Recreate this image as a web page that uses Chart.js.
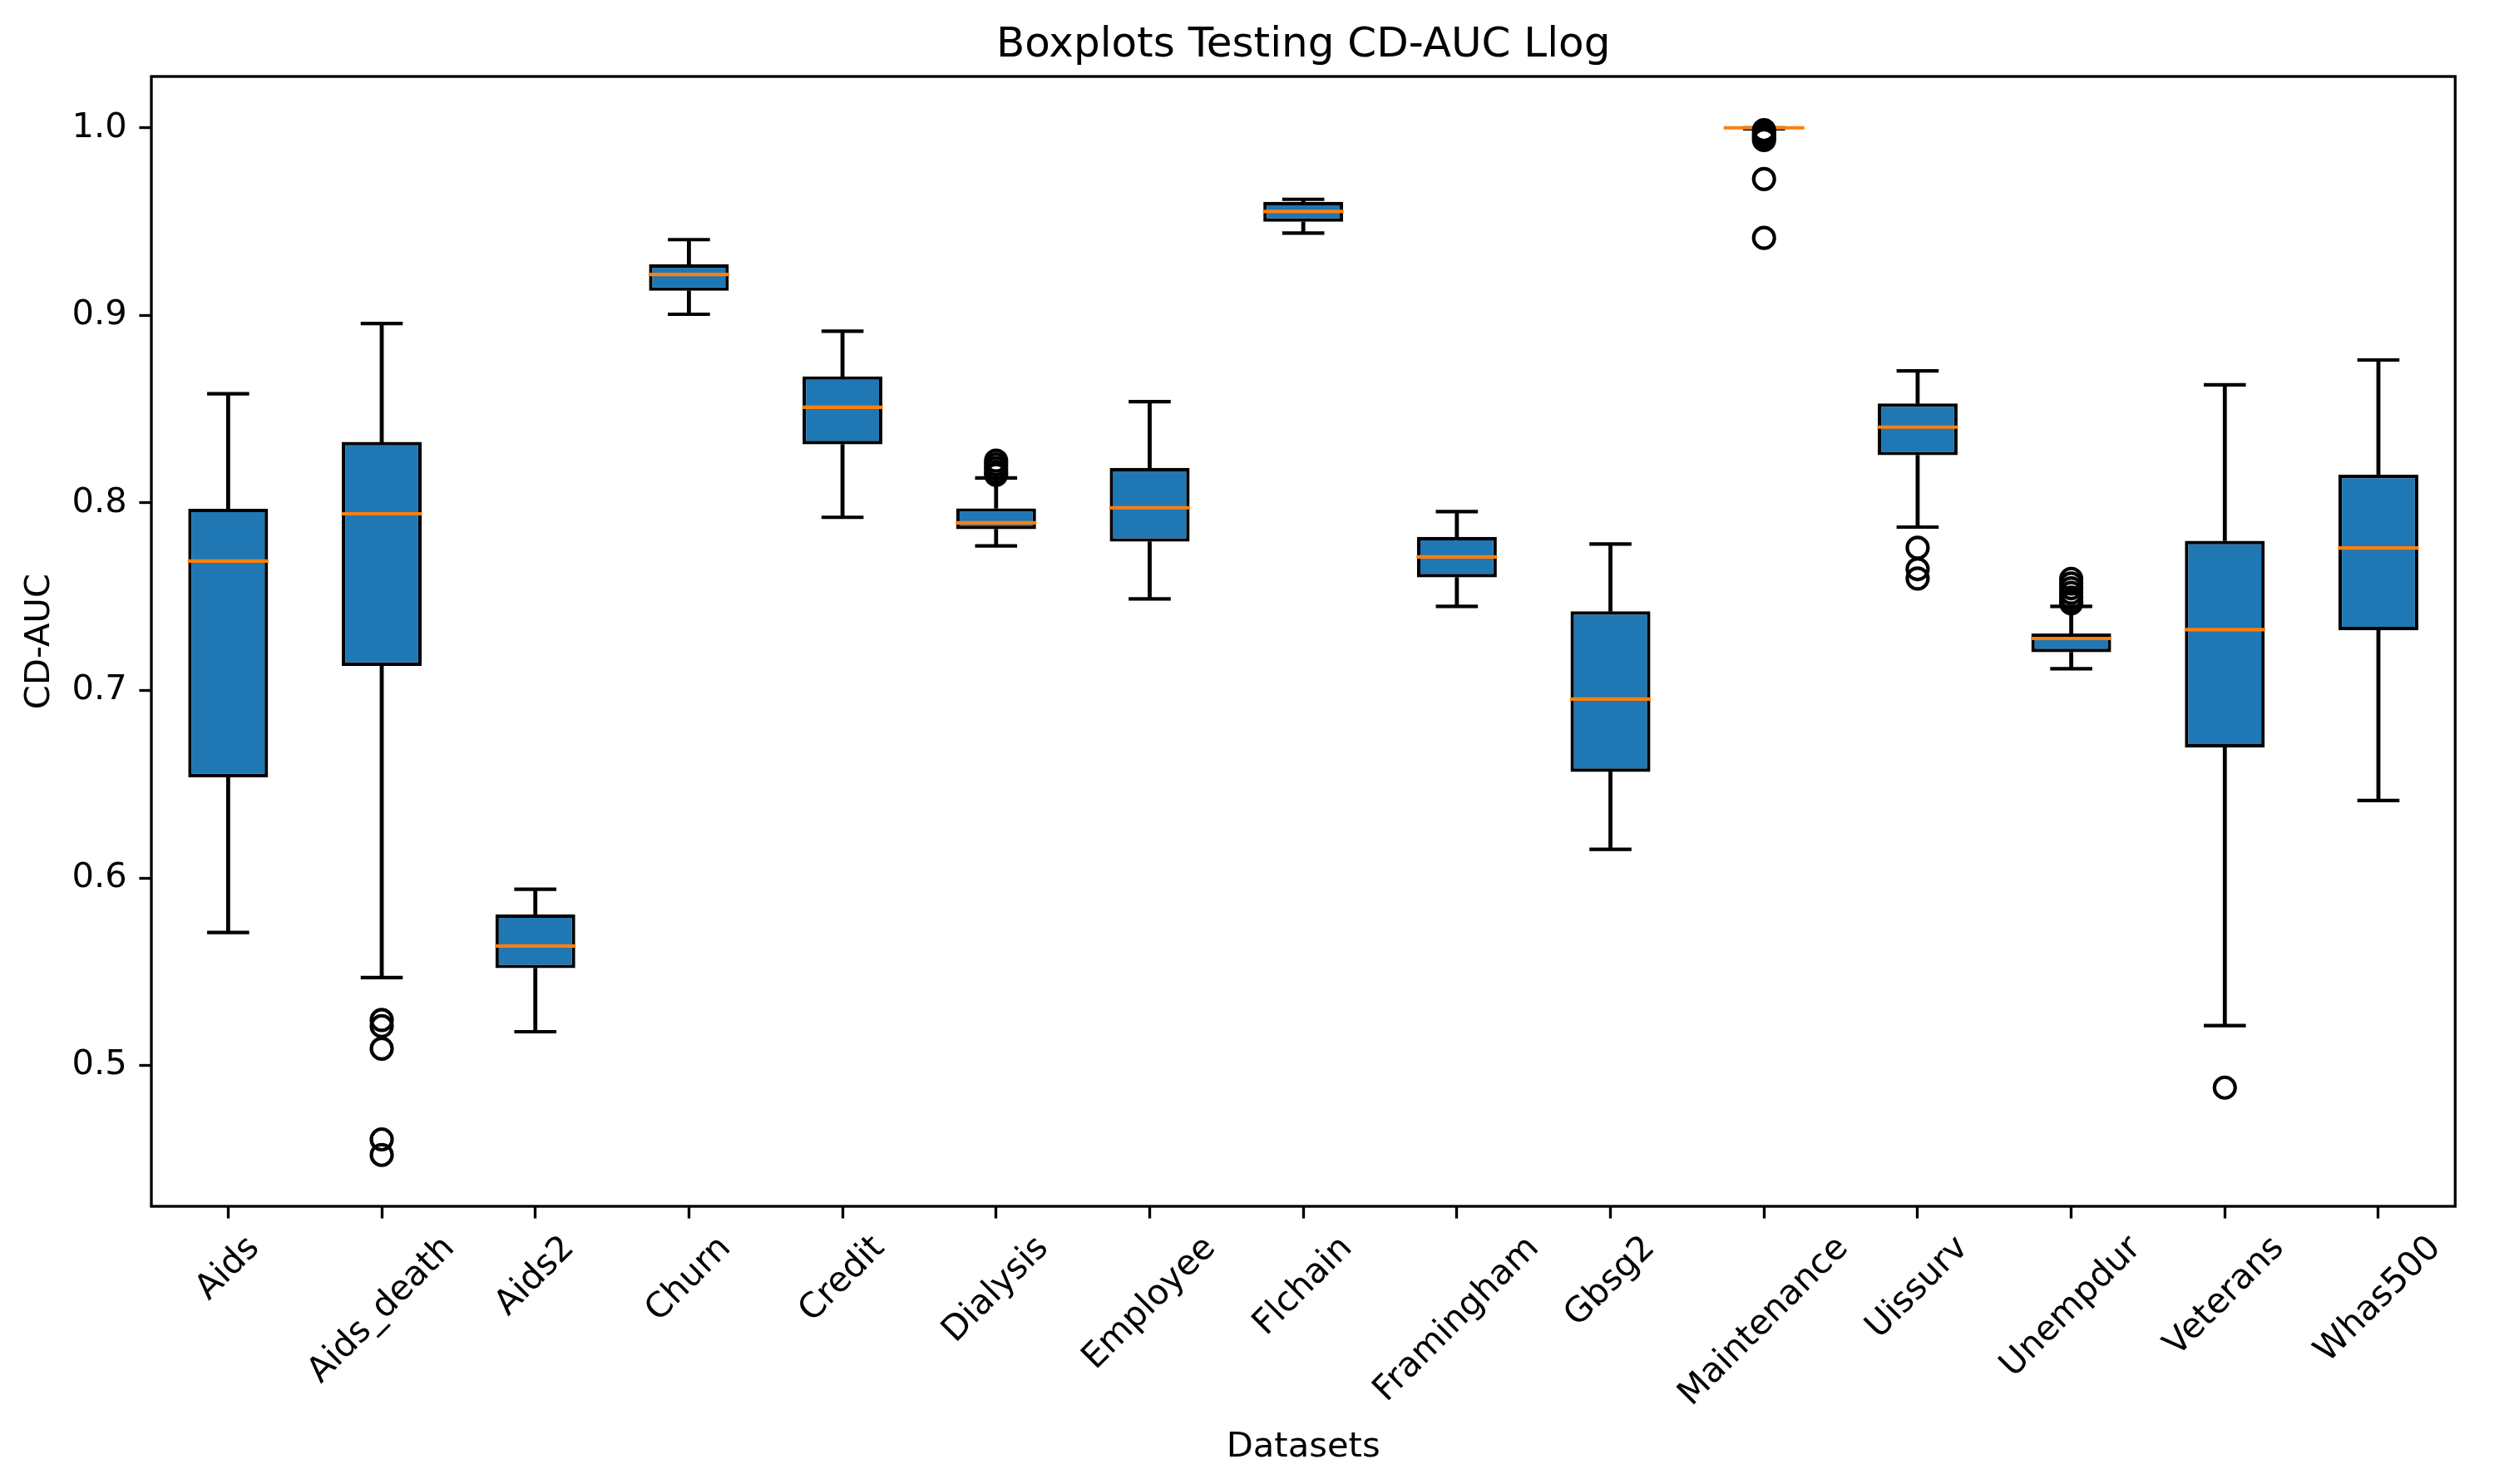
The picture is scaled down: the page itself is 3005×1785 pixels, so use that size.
<!DOCTYPE html>
<html>
<head>
<meta charset="utf-8">
<script src="https://cdn.jsdelivr.net/npm/chart.js@4.4.1/dist/chart.umd.min.js"></script>
<style>
    html, body { margin: 0; padding: 0; background: #fff; }
    #wrap { width: 3005px; height: 1785px; }
</style>
</head>
<body>
<div id="wrap"><canvas id="chart" width="3005" height="1785"></canvas></div>
<script>
// Values
const datasets = ['Aids', 'Aids_death', 'Aids2', 'Churn', 'Credit', 'Dialysis', 'Employee', 'Flchain',
    'Framingham', 'Gbsg2', 'Maintenance', 'Uissurv', 'Unempdur', 'Veterans', 'Whas500'];
const whiskerLow  = [0.5709, 0.5469, 0.5180, 0.9006, 0.7923, 0.7771, 0.7488, 0.9439, 0.7448, 0.6153, 0.9995, 0.7871, 0.7116, 0.5213, 0.6413];
const q1          = [0.6537, 0.7131, 0.5519, 0.9131, 0.8312, 0.7860, 0.7793, 0.9499, 0.7603, 0.6566, 0.9997, 0.8254, 0.7204, 0.6695, 0.7321];
const medians     = [0.7690, 0.7942, 0.5637, 0.9218, 0.8510, 0.7894, 0.7974, 0.9554, 0.7712, 0.6954, 1.0000, 0.8404, 0.7277, 0.7324, 0.7760];
const q3          = [0.7969, 0.8325, 0.5806, 0.9273, 0.8675, 0.7971, 0.8187, 0.9605, 0.7819, 0.7422, 1.0000, 0.8530, 0.7304, 0.7798, 0.8150];
const whiskerHigh = [0.8582, 0.8957, 0.5940, 0.9404, 0.8916, 0.8133, 0.8540, 0.9619, 0.7954, 0.7781, 1.0000, 0.8704, 0.7448, 0.8630, 0.8762];
const outliers = [
    [],
    [0.5243, 0.5210, 0.5090, 0.4606, 0.4523],
    [], [], [],
    [0.8225, 0.8205, 0.8185, 0.8165, 0.8150],
    [], [], [], [],
    [0.9988, 0.9975, 0.9960, 0.9947, 0.9935, 0.9727, 0.9413],
    [0.7761, 0.7647, 0.7597],
    [0.7595, 0.7570, 0.7545, 0.7520, 0.7495, 0.7475, 0.7465],
    [0.4882],
    []
];
const yTicks = [0.5, 0.6, 0.7, 0.8, 0.9, 1.0];
const chartTitle = 'Boxplots Testing CD-AUC Llog';

const PT = 300 / 72;           // figure was saved at 300 dpi
const BLUE = '#1f77b4', ORANGE = '#ff7f0e';

Chart.defaults.font.family = '"DejaVu Sans", sans-serif';
Chart.defaults.color = '#000';

// flatten outliers into points on the category axis
let outlierPoints = [];
for (let i = 0; i < datasets.length; i++) {
    for (const v of outliers[i]) outlierPoints.push({x: datasets[i], y: v});
}

// matplotlib style auto limits: data range plus 5% on both sides
let allVals = whiskerLow.concat(whiskerHigh, outlierPoints.map(p => p.y));
let lo = Math.min(...allVals), hi = Math.max(...allVals);
let yMin = lo - 0.05 * (hi - lo), yMax = hi + 0.05 * (hi - lo);

// spines on all four sides, title over the axes, centred rotated x labels like matplotlib
const framePlugin = {
    id: 'frame',
    afterDatasetsDraw(chart) {
        const {ctx, chartArea: a} = chart;
        ctx.save();
        ctx.strokeStyle = '#000';
        ctx.lineWidth = 0.8 * PT;
        ctx.strokeRect(a.left, a.top, a.right - a.left, a.bottom - a.top);
        ctx.restore();
    },
    afterDraw(chart) {
        const {ctx, chartArea: a} = chart;
        const xs = chart.scales.x;
        const fs = 10 * PT;
        ctx.save();
        ctx.fillStyle = '#000';
        ctx.textAlign = 'center';
        ctx.textBaseline = 'alphabetic';

        ctx.font = (12 * PT) + 'px "DejaVu Sans"';
        ctx.fillText(chartTitle, (a.left + a.right) / 2, a.top - 6 * PT + 0.5);

        ctx.font = fs + 'px "DejaVu Sans"';
        const h = 0.996 * fs, d = 0.236 * fs;
        const top = a.bottom + 3.5 * PT + 3.5 * PT;
        for (let i = 0; i < datasets.length; i++) {
            const w = ctx.measureText(datasets[i]).width;
            const cx = xs.getPixelForTick(i);
            const cy = top + (w + h) * Math.SQRT1_2 / 2;
            ctx.save();
            ctx.translate(cx, cy);
            ctx.rotate(-Math.PI / 4);
            ctx.fillText(datasets[i], 0, h / 2 - d);
            ctx.restore();
        }
        ctx.restore();
    }
};

const pointLine = (data, color, radius, order) => ({
    type: 'line',
    data: data,
    showLine: false,
    pointStyle: 'line',
    pointRadius: radius,
    pointHoverRadius: radius,
    pointBorderWidth: PT,
    pointHoverBorderWidth: PT,
    pointBorderColor: color,
    pointBackgroundColor: color,
    order: order
});

new Chart(document.getElementById('chart'), {
    type: 'bar',
    data: {
        labels: datasets,
        datasets: [
            {
                type: 'line',
                data: outlierPoints,
                showLine: false,
                pointStyle: 'circle',
                pointRadius: 3 * PT,
                pointHoverRadius: 3 * PT,
                pointBorderWidth: PT,
                pointHoverBorderWidth: PT,
                pointBorderColor: '#000',
                pointBackgroundColor: 'rgba(0,0,0,0)',
                order: 0
            },
            pointLine(medians, ORANGE, 48.5, 1),
            pointLine(whiskerHigh, '#000', 25.3, 2),
            pointLine(whiskerLow, '#000', 25.3, 2),
            {
                data: q1.map((v, i) => [v, q3[i]]),
                backgroundColor: BLUE,
                borderColor: '#000',
                borderWidth: PT,
                borderSkipped: false,
                grouped: false,
                categoryPercentage: 1.0,
                barPercentage: 0.52,
                order: 3
            },
            {
                data: whiskerLow.map((v, i) => [v, q1[i]]),
                backgroundColor: '#000',
                borderWidth: 0,
                grouped: false,
                barThickness: PT,
                order: 4
            },
            {
                data: q3.map((v, i) => [v, whiskerHigh[i]]),
                backgroundColor: '#000',
                borderWidth: 0,
                grouped: false,
                barThickness: PT,
                order: 4
            }
        ]
    },
    options: {
        responsive: false,
        devicePixelRatio: 1,
        animation: false,
        events: [],
        layout: { padding: { left: 0, right: 32, top: 92, bottom: 0 } },
        plugins: {
            legend: { display: false },
            tooltip: { enabled: false },
            title: { display: false }
        },
        scales: {
            x: {
                type: 'category',
                offset: true,
                grid: {
                    offset: false,
                    drawOnChartArea: false,
                    drawTicks: true,
                    tickLength: 3.5 * PT,
                    tickWidth: 0.8 * PT,
                    tickColor: '#000',
                    color: '#000'
                },
                border: { display: false },
                ticks: { display: false },
                title: {
                    display: true,
                    text: 'Datasets',
                    font: { size: 10 * PT },
                    color: '#000',
                    padding: { top: 0, bottom: 19 }
                },
                afterFit: s => { s.height = 334; }
            },
            y: {
                type: 'linear',
                min: yMin,
                max: yMax,
                afterBuildTicks: s => { s.ticks = yTicks.map(v => ({value: v})); },
                grid: {
                    drawOnChartArea: false,
                    drawTicks: true,
                    tickLength: 3.5 * PT,
                    tickWidth: 0.8 * PT,
                    tickColor: '#000',
                    color: '#000'
                },
                border: { display: false },
                ticks: {
                    padding: 3.5 * PT,
                    font: { size: 10 * PT },
                    color: '#000',
                    callback: v => v.toFixed(1)
                },
                title: {
                    display: true,
                    text: 'CD-AUC',
                    font: { size: 10 * PT },
                    color: '#000',
                    padding: { top: 23, bottom: 0 }
                },
                afterFit: s => { s.width = 182; }
            }
        }
    },
    plugins: [framePlugin]
});
</script>
</body>
</html>
